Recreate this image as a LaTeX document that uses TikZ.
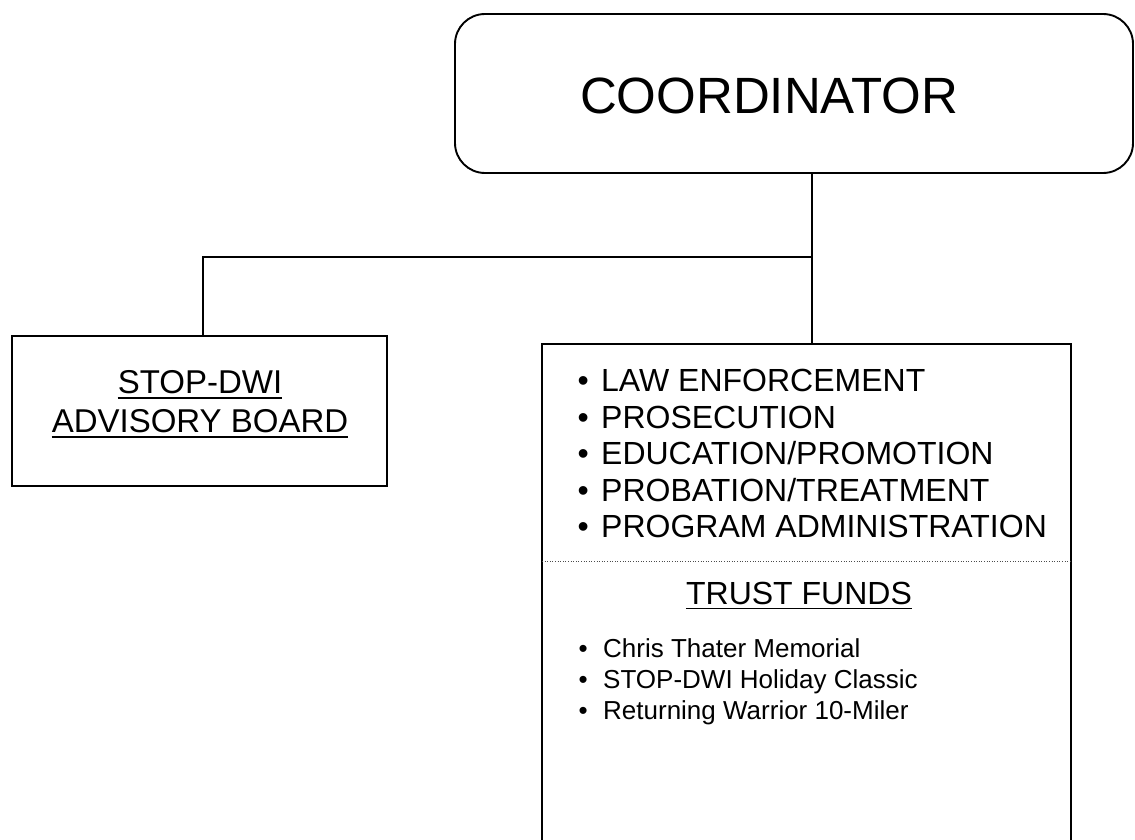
\documentclass[tikz,border=0pt]{standalone}
\usepackage{fontspec}
\setmainfont{Liberation Sans}
\usetikzlibrary{calc}
\begin{document}
\begin{tikzpicture}[x=1pt,y=-1pt,
  boxline/.style={draw=black, line width=1.9pt, inner sep=0pt},
  conn/.style={draw=black, line width=1.6pt},
  ulline/.style={draw=black, line width=1.6pt},
  dotline/.style={draw=black!70, line width=0.9pt, dash pattern=on 1pt off 1.6pt},
  bigtxt/.style={font=\fontsize{51}{61}\selectfont, inner sep=0pt},
  midtxt/.style={font=\fontsize{33}{39}\selectfont, inner sep=0pt},
  listtxt/.style={font=\fontsize{32}{38}\selectfont, inner sep=0pt, anchor=base west},
  smalltxt/.style={font=\fontsize{26}{31}\selectfont, inner sep=0pt, anchor=base west},
]
\useasboundingbox (0,0) rectangle (1135,840);
\clip (0,0) rectangle (1135,840);

% boxes
\node[boxline, rounded corners=30pt, minimum width=678pt, minimum height=159pt] (coord) at (794,93.5) {};
\node[bigtxt] (coordtxt) at (769,96) {COORDINATOR};

\node[boxline, minimum width=375pt, minimum height=150pt] (adv) at (199.5,411) {};
\node[midtxt] (adv1) at (200,382) {STOP-DWI};
\node[midtxt] (adv2) at (200,421) {ADVISORY BOARD};
\draw[ulline] ($(adv1.base west)+(0,4.5)$) -- ($(adv1.base east)+(0,4.5)$);
\draw[ulline] ($(adv2.base west)+(0,4.5)$) -- ($(adv2.base east)+(0,4.5)$);

\node[boxline, anchor=north west, minimum width=529pt, minimum height=560pt] (prog) at (541,343) {};

% connectors
\coordinate (j) at (812,257);
\coordinate (ja) at (203,257);
\draw[conn] (j |- coord.south) -- (j |- prog.north);
\draw[conn] (j) -- (ja) -- (ja |- adv.north);

% program list
\foreach \t [count=\i] in {LAW ENFORCEMENT, PROSECUTION, EDUCATION/PROMOTION, PROBATION/TREATMENT, PROGRAM ADMINISTRATION}{
  \node[listtxt] (item\i) at (577.4,{391.5+36.5*(\i-1)}) {•\hspace{12.4pt}\t};
}

% dotted separator
\coordinate (dl) at (542,561);
\draw[dotline] (dl) -- (dl -| prog.east);

% trust funds
\node[font=\fontsize{32}{38}\selectfont, inner sep=0pt] (tf) at (799,593) {TRUST FUNDS};
\draw[ulline] ($(tf.base west)+(0,4.5)$) -- ($(tf.base east)+(0,4.5)$);

\foreach \t [count=\i] in {Chris Thater Memorial, STOP-DWI Holiday Classic, Returning Warrior 10-Miler}{
  \node[smalltxt] (fund\i) at (578.5,{657.3+31*(\i-1)}) {•\hspace{15.4pt}\t};
}
\end{tikzpicture}
\end{document}
